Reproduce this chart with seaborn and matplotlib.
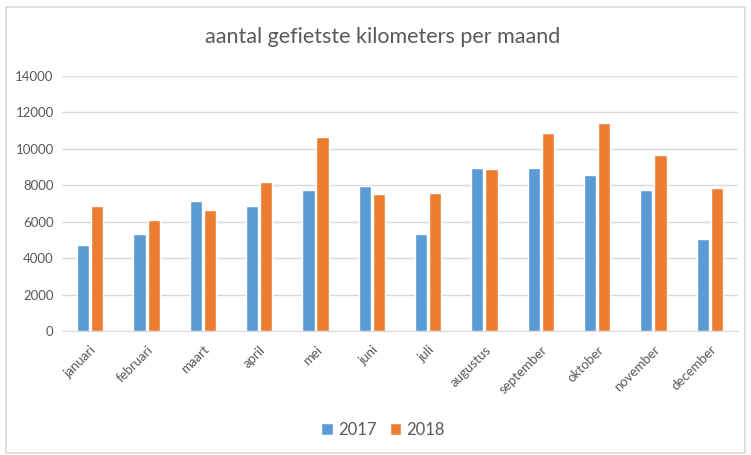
import matplotlib
matplotlib.use('Agg')
import matplotlib.pyplot as plt
import seaborn as sns
import pandas as pd
from matplotlib.patches import Rectangle

# data
maanden = ['januari', 'februari', 'maart', 'april', 'mei', 'juni', 'juli',
           'augustus', 'september', 'oktober', 'november', 'december']
km_2017 = [4710, 5320, 7130, 6870, 7730, 7940, 5320, 8960, 8960, 8540, 7730, 5060]
km_2018 = [6870, 6090, 6620, 8170, 10630, 7500, 7590, 8870, 10880, 11400, 9660, 7830]
jaren = ['2017', '2018']
yticks = [0, 2000, 4000, 6000, 8000, 10000, 12000, 14000]

df = pd.DataFrame({
    'maand': maanden * 2,
    'jaar': [jaren[0]] * len(maanden) + [jaren[1]] * len(maanden),
    'km': km_2017 + km_2018,
})

sns.set_style('white')
plt.rcParams['font.family'] = ['Lato', 'DejaVu Sans']
text_col = '#595959'

fig = plt.figure(figsize=(7.51, 4.55), dpi=100)
ax = fig.add_axes([0.0826, 0.2725, 0.900, 0.5605])

sns.barplot(data=df, x='maand', y='km', hue='jaar', ax=ax,
            palette=['#5B9BD5', '#ED7D31'], width=0.5, gap=0.14,
            saturation=1, errorbar=None)

ax.set_ylim(0, 14000)
ax.set_xlim(-0.5, len(maanden) - 0.5)
ax.set_yticks(yticks)
ax.set_yticklabels([str(t) for t in yticks], color=text_col, fontsize=9.5)
ax.yaxis.grid(True, color='#D9D9D9', linewidth=1)
ax.set_axisbelow(True)
ax.tick_params(axis='y', length=0, pad=6)
ax.tick_params(axis='x', length=0, pad=9)
ax.set_xticks(range(len(maanden)))
ax.set_xticklabels(maanden, rotation=45, ha='right', rotation_mode='anchor',
                   color=text_col, fontsize=9.5)
ax.set_xlabel('')
ax.set_ylabel('')
for s in ['top', 'right', 'left']:
    ax.spines[s].set_visible(False)
ax.spines['bottom'].set_color('#D9D9D9')

fig.text(0.509, 0.918, 'aantal gefietste kilometers per maand',
         ha='center', va='center', fontsize=15.5, color=text_col)

handles, labels = ax.get_legend_handles_labels()
ax.legend(handles, labels, loc='center', bbox_to_anchor=(0.51, 0.055),
          bbox_transform=fig.transFigure, ncol=2, frameon=False,
          handlelength=0.7, handleheight=0.7, handletextpad=0.3,
          columnspacing=0.8, fontsize=12, labelcolor=text_col)

# light frame around the chart
fig.patches.append(Rectangle((0.008, 0.005), 0.984, 0.98, transform=fig.transFigure,
                             fill=False, edgecolor='#D9D9D9', linewidth=1.2))

fig.savefig('out.png', dpi=100)
plt.close()
